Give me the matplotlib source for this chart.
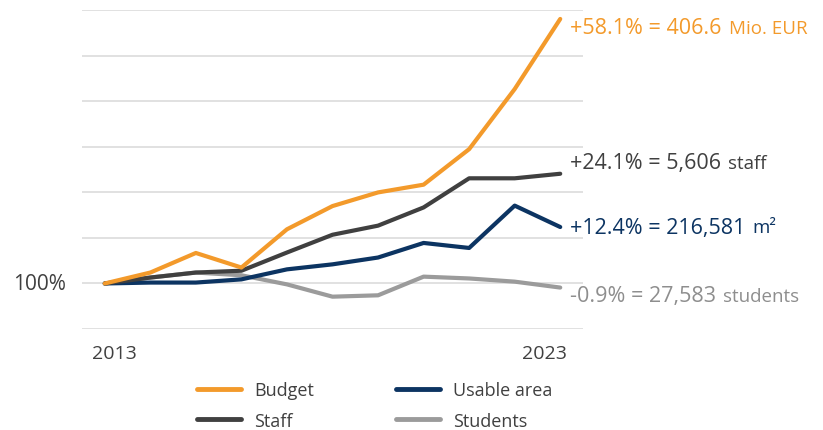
import matplotlib
matplotlib.use("Agg")
import matplotlib.pyplot as plt
from matplotlib.lines import Line2D

plt.rcParams['font.family'] = ['Open Sans', 'DejaVu Sans']

years = list(range(2013, 2024))
budget = [100, 102.4, 106.7, 103.5, 111.9, 117.0, 120.0, 121.7, 129.5, 142.7, 158.1]
staff = [100, 101.3, 102.4, 102.8, 106.8, 110.7, 112.7, 116.7, 123.1, 123.1, 124.1]
area = [100, 100.2, 100.2, 100.9, 103.1, 104.2, 105.7, 108.9, 107.8, 117.1, 112.4]
students = [100, 101.3, 102.4, 101.8, 99.8, 97.1, 97.4, 101.5, 101.1, 100.4, 99.1]

series_names = ["Budget", "Staff", "Usable area", "Students"]
colors = ["#F39A2B", "#404040", "#0C3462", "#9B9B9B"]
text_colors = ["#F39A2B", "#404040", "#0C3462", "#8E8E8E"]
label_main = ["+58.1% = 406.6", "+24.1% = 5,606", "+12.4% = 216,581", "-0.9% = 27,583"]
label_unit = ["Mio. EUR", "staff", "m²", "students"]
label_y = [156.2, 126.6, 112.4, 97.3]
x_tick_labels = ["2013", "2023"]
y_label = "100%"

W, H = 823, 431
fig = plt.figure(figsize=(W / 100, H / 100), dpi=100)
ax = fig.add_axes([82 / W, (H - 330) / H, 501 / W, (330 - 11.3) / H])
ax.set_xlim(2012.5, 2023.5)
ax.set_ylim(90, 160)
for s in ax.spines.values():
    s.set_visible(False)
ax.set_xticks([])
ax.set_yticks([])
for g in range(90, 161, 10):
    ax.axhline(g, color="#D9D9D9", lw=1.1, zorder=0)

data = [budget, staff, area, students]
zorders = [5, 4, 3, 2]
for i in [3, 2, 1, 0]:
    ax.plot(years, data[i], color=colors[i], lw=3.0, solid_capstyle="round",
            solid_joinstyle="round", clip_on=False, zorder=zorders[i])

# end labels
fig.canvas.draw()
r = fig.canvas.get_renderer()
for i in range(4):
    t = ax.text(2023.22, label_y[i], label_main[i], color=text_colors[i], fontsize=15.5,
                va="center", ha="left", clip_on=False)
    bb = t.get_window_extent(renderer=r)
    x_px = bb.x1 + 7
    xd = ax.transData.inverted().transform((x_px, 0))[0]
    ax.text(xd, label_y[i] - 0.1, label_unit[i], color=text_colors[i], fontsize=13.5,
            va="center", ha="left", clip_on=False)

ax.text(2012.15, 100, y_label, color="#404040", fontsize=15, va="center", ha="right")
ax.text(2013.22, 84.7, x_tick_labels[0], color="#404040", fontsize=14, va="center", ha="center")
ax.text(2022.65, 84.7, x_tick_labels[1], color="#404040", fontsize=14, va="center", ha="center")

handles = [Line2D([0], [0], color=colors[i], lw=3.5, solid_capstyle="round") for i in range(4)]
fig.legend(handles, series_names, ncol=2, frameon=False, fontsize=13,
           loc="upper left", bbox_to_anchor=(181 / W, 1 - 366 / H),
           handlelength=2.45, handletextpad=0.72, columnspacing=4.5, labelspacing=0.68,
           labelcolor="#404040")

fig.savefig("out.png", dpi=100)
